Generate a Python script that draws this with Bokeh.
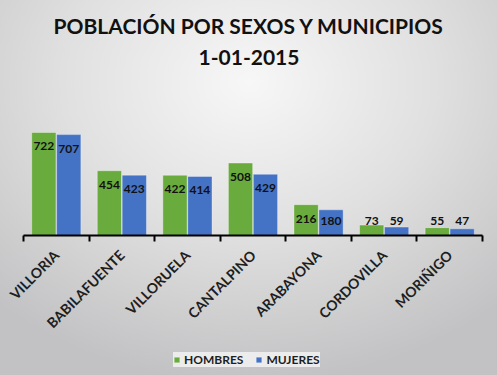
import numpy as np
from bokeh.plotting import figure
from bokeh.models import (Range1d, FixedTicker, ColumnDataSource, Legend, LegendItem, Label)
from bokeh.core.properties import value
from bokeh.embed import file_html
from bokeh.resources import INLINE

municipios = ["VILLORIA", "BABILAFUENTE", "VILLORUELA", "CANTALPINO", "ARABAYONA", "CORDOVILLA", "MORIÑIGO"]
hombres = [722, 454, 422, 508, 216, 73, 55]
mujeres = [707, 423, 414, 429, 180, 59, 47]
series_names = ["HOMBRES", "MUJERES"]
colors = ["#6aab3e", "#4472c4"]
title_lines = ["POBLACIÓN POR SEXOS Y MUNICIPIOS", "1-01-2015"]

FONT = "Lato"
W, H = 497, 375
n = len(municipios)
centers = np.arange(n) + 0.5

# layout (pixels)
plot_left, cat_px = 23, 65.57
base_y, unit_px = 235, 0.1427

x_range = Range1d(-plot_left / cat_px, (W - plot_left) / cat_px)
y_range = Range1d(-(H - base_y) / unit_px, base_y / unit_px)

p = figure(width=W, height=H, output_backend="svg", toolbar_location=None,
           x_range=x_range, y_range=y_range,
           min_border_left=0, min_border_right=0, min_border_top=0, min_border_bottom=0)
p.background_fill_alpha = 0
p.border_fill_alpha = 0
p.outline_line_color = None
p.styles = {"background": "radial-gradient(ellipse 75% 80% at 50% 22%, #f7f7f7 0%, #e0e0e0 50%, #c2c2c4 100%)"}
p.grid.visible = False
p.yaxis.visible = False

renderers = []
for vals, col, off in [(hombres, colors[0], -0.19), (mujeres, colors[1], 0.19)]:
    v = np.array(vals, dtype=float)
    ly = np.maximum(v - 98, 105)
    src = ColumnDataSource(dict(x=centers + off, top=v, ly=ly, lab=[str(int(a)) for a in vals]))
    r = p.vbar(x="x", top="top", width=0.37, source=src, fill_color=col,
               line_color="white", line_alpha=0.35, line_width=1)
    renderers.append(r)
    p.text(x="x", y="ly", text="lab", source=src, text_align="center", text_baseline="middle",
           text_font=value(FONT), text_font_size="12px", text_font_style="bold", text_color="#111111")

ax = p.xaxis[0]
ax.fixed_location = 0
ax.ticker = FixedTicker(ticks=list(centers), minor_ticks=list(np.arange(n + 1)))
ax.major_label_overrides = {float(c): m for c, m in zip(centers, municipios)}
ax.major_label_orientation = np.pi / 4
ax.major_label_text_font = FONT
ax.major_label_text_font_size = "14px"
ax.major_label_text_font_style = "bold"
ax.major_label_text_color = "#1e1e1e"
ax.major_label_standoff = 11
ax.major_tick_line_color = None
ax.minor_tick_line_color = "black"
ax.minor_tick_line_width = 2
ax.minor_tick_out = 6
ax.minor_tick_in = 0
ax.axis_line_color = "black"
ax.axis_line_width = 2
ax.bounds = (0, n)

legend = Legend(items=[LegendItem(label=series_names[i], renderers=[renderers[i]]) for i in range(2)],
                orientation="horizontal", location=(173, 8),
                label_text_font=FONT, label_text_font_size="12px", label_text_font_style="bold",
                label_text_color="#1e1e1e", glyph_width=7, glyph_height=7, label_standoff=4,
                spacing=12, padding=8, margin=0,
                background_fill_color="#ececec", background_fill_alpha=1, border_line_color=None,
                label_height=12)
p.add_layout(legend)

for txt, ty in zip(title_lines, [25, 57]):
    p.add_layout(Label(x=W / 2, y=H - ty, x_units="screen", y_units="screen", text=txt,
                       text_align="center", text_baseline="middle", text_font=FONT,
                       text_font_size="21px", text_font_style="bold", text_color="#111111"))

open("out.html", "w").write(file_html(p, INLINE))
